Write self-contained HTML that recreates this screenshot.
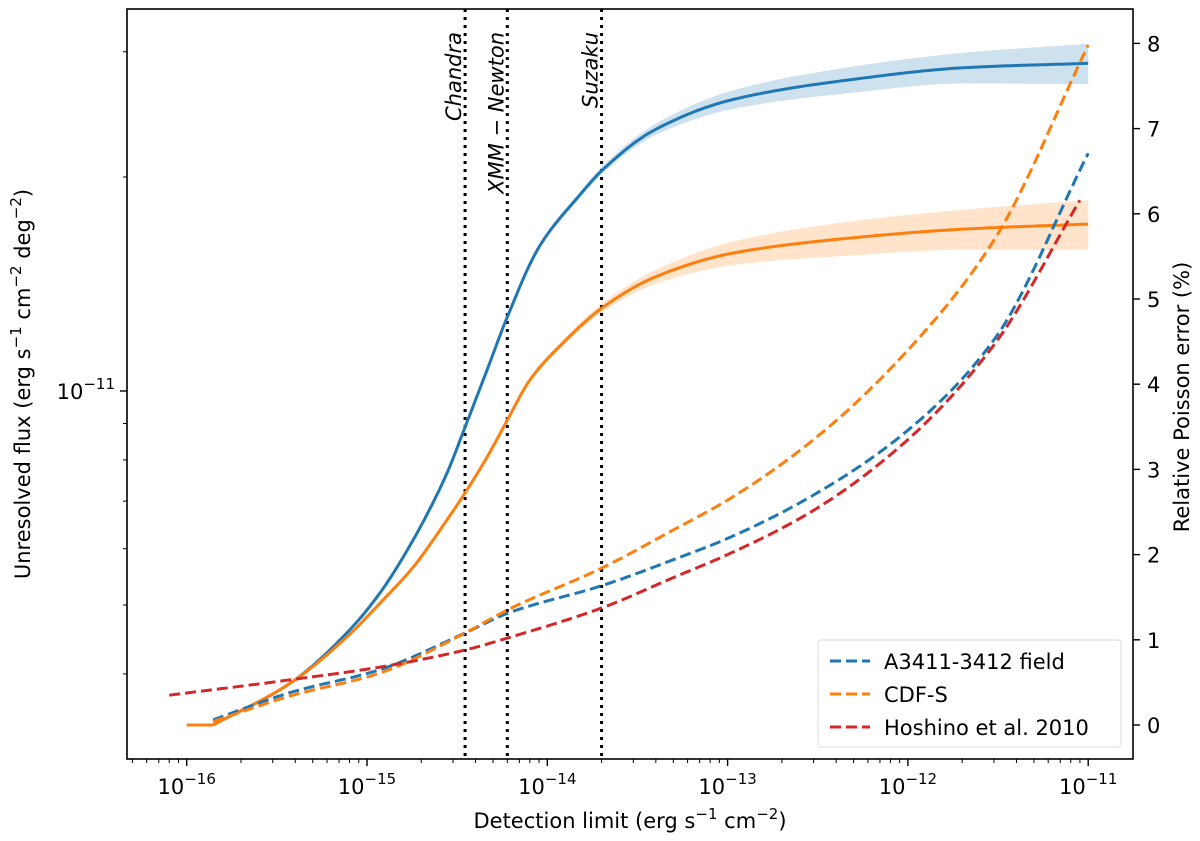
<!DOCTYPE html>
<html><head><meta charset="utf-8"><style>
html,body{margin:0;padding:0;background:#fff;}
svg{display:block;font-family:"DejaVu Sans","Liberation Sans",sans-serif;}
</style></head><body>
<svg id="chart" width="1200" height="841" xmlns="http://www.w3.org/2000/svg"></svg>
<script>
// ---- data ----
const blueX = [1.4e-16,3.74e-16,7.74e-16,1.18e-15,1.8e-15,2.78e-15,3.5e-15,4.63e-15,6e-15,9.0e-15,1.48e-14,2.04e-14,3.95e-14,1.07e-13,4.78e-13,2.1e-12,1e-11];
const blueFlux = [3.39e-12,3.88e-12,4.57e-12,5.20e-12,6.17e-12,7.67e-12,8.9e-12,1.07e-11,1.271e-11,1.594e-11,1.874e-11,2.05e-11,2.33e-11,2.57e-11,2.74e-11,2.85e-11,2.89e-11];
const blueBandPct = [0.3,0.3,0.3,0.3,0.3,0.4,0.4,0.5,0.6,0.8,1.0,1.2,1.8,3.0,4.2,5.0,6.5];
const orangeX = [1.4e-16,3.74e-16,7.74e-16,1.18e-15,1.8e-15,2.78e-15,3.5e-15,4.63e-15,6e-15,8e-15,1.22e-14,2.04e-14,3.95e-14,1.07e-13,4.78e-13,2.1e-12,1e-11];
const orangeFlux = [3.39e-12,3.88e-12,4.51e-12,5.03e-12,5.65e-12,6.59e-12,7.19e-12,8.07e-12,9.10e-12,1.036e-11,1.168e-11,1.312e-11,1.446e-11,1.563e-11,1.641e-11,1.69e-11,1.717e-11];
const orangeBandPct = [0.3,0.3,0.3,0.3,0.3,0.4,0.4,0.5,0.6,0.8,1.0,1.5,2.2,3.8,5.5,6.5,8.0];
const flatX = [1e-16,1.4e-16];
const flatFlux = [3.39e-12,3.39e-12];
const dashX = [1.4e-16,3.74e-16,1.18e-15,3.5e-15,6e-15,2.04e-14,5e-14,1e-13,3e-13,1e-12,3e-12,1e-11];
const blueErr = [0.06,0.38,0.65,1.08,1.31,1.64,1.94,2.19,2.70,3.46,4.52,6.71];
const orangeErr = [0.04,0.34,0.61,1.08,1.35,1.85,2.29,2.64,3.35,4.40,5.69,7.98];
const redX = [8e-17,3.74e-16,1.18e-15,3.5e-15,6e-15,2.04e-14,5e-14,1e-13,3e-13,1e-12,3e-12,9e-12];
const redErr = [0.35,0.53,0.68,0.88,1.02,1.38,1.73,2.00,2.52,3.35,4.46,6.16];
const instruments = ["Chandra","XMM − Newton","Suzaku"];
const instrumentLimits = [3.5e-15,6e-15,2e-14];
const xTickExp = [-16,-15,-14,-13,-12,-11];
const rightTicks = [0,1,2,3,4,5,6,7,8];

// ---- axes ----
const L=127,R=1133,T=9,B=759;
const xs = v => 186.7 + (Math.log10(v)+16)*180.3;
const yl = v => 391 - 711*Math.log10(v/1e-11);
const yr = v => 725 - 85.2*v;
const NS="http://www.w3.org/2000/svg";
const svg=document.getElementById('chart');
function el(tag,attrs,parent){const e=document.createElementNS(NS,tag);for(const k in attrs)e.setAttribute(k,attrs[k]);(parent||svg).appendChild(e);return e;}

const defs=el('defs',{});
const cp=el('clipPath',{id:'clip'},defs);
el('rect',{x:L,y:T,width:R-L,height:B-T},cp);
const plot=el('g',{'clip-path':'url(#clip)'});



function samplePts(xa,ya,fx,fy){
  const X=xa.map(fx), Y=ya.map(fy), n=X.length;
  if(n<3) return X.map((x,i)=>[x,Y[i]]);
  const d=[],m=new Array(n);
  for(let i=0;i<n-1;i++) d.push((Y[i+1]-Y[i])/(X[i+1]-X[i]));
  m[0]=d[0]; m[n-1]=d[n-2];
  for(let i=1;i<n-1;i++){ if(d[i-1]*d[i]<=0) m[i]=0; else { const w1=2*(X[i+1]-X[i])+(X[i]-X[i-1]), w2=(X[i+1]-X[i])+2*(X[i]-X[i-1]); m[i]=(w1+w2)/(w1/d[i-1]+w2/d[i]); } }
  const pts=[];
  for(let i=0;i<n-1;i++){
    const h=X[i+1]-X[i], steps=Math.max(2,Math.ceil(h/3));
    for(let s=0;s<steps;s++){
      const t=s/steps, t2=t*t, t3=t2*t;
      const y=(2*t3-3*t2+1)*Y[i]+(t3-2*t2+t)*h*m[i]+(-2*t3+3*t2)*Y[i+1]+(t3-t2)*h*m[i+1];
      pts.push([X[i]+t*h,y]);
    }
  }
  pts.push([X[n-1],Y[n-1]]);
  return pts;
}
const toD = pts => pts.map((p,i)=>(i?'L':'M')+p[0].toFixed(1)+','+p[1].toFixed(1)).join(' ');

function band(xa,ya,pct,color,name){
  const up=ya.map((v,i)=>v*(1+pct[i]/100)), lo=ya.map((v,i)=>v*(1-pct[i]/100));
  const p1=samplePts(xa,up,xs,yl), p2=samplePts(xa,lo,xs,yl).reverse();
  const p=el('path',{d:toD(p1.concat(p2))+' Z',fill:color,'fill-opacity':0.22,stroke:'none'},plot);
  
  
}
band(blueX,blueFlux,blueBandPct,'#1f77b4','blue-flux-band');
band(orangeX,orangeFlux,orangeBandPct,'#ff7f0e','orange-flux-band');

instrumentLimits.forEach((v,i)=>{
  const ln=el('line',{x1:xs(v),x2:xs(v),y1:T,y2:B,stroke:'#000','stroke-width':3,'stroke-dasharray':'3,5'},plot);
  
  
  const t=el('text',{x:0,y:0,transform:`translate(${xs(v)-4},32) rotate(-90)`,'text-anchor':'end','font-size':21,'font-style':'italic',fill:'#000'});
  t.textContent=instruments[i];
  
  
});

function line(xa,ya,fy,color,dashed,name){
  const p=el('path',{d:toD(samplePts(xa,ya,xs,fy)),fill:'none',stroke:color,'stroke-width':3,'stroke-linejoin':'round','stroke-dasharray':dashed?'11,5':'none'},plot);
  
  
}
line(blueX,blueFlux,yl,'#1f77b4',false,'blue-flux-line');
line(flatX,flatFlux,yl,'#ff7f0e',false,'orange-flux-flat');
line(orangeX,orangeFlux,yl,'#ff7f0e',false,'orange-flux-line');
line(dashX,blueErr,yr,'#1f77b4',true,'a3411-error-line');
line(dashX,orangeErr,yr,'#ff7f0e',true,'cdfs-error-line');
line(redX,redErr,yr,'#d62728',true,'hoshino-error-line');

const fr=el('rect',{x:L,y:T,width:R-L,height:B-T,fill:'none',stroke:'#000','stroke-width':1.6});



for(let e=-17;e<=-11;e++){for(let m=1;m<=9;m++){const v=m*Math.pow(10,e);const x=xs(v);if(x<L||x>R)continue;
  el('line',{x1:x,x2:x,y1:B,y2:B+(m===1?7:4),stroke:'#000','stroke-width':m===1?1.4:1});}}
xTickExp.forEach(e=>{
  const t=el('text',{x:xs(Math.pow(10,e)),y:B+35,'text-anchor':'middle','font-size':21,fill:'#000'});
  t.innerHTML=`10<tspan dy="-10" font-size="15">−${-e}</tspan>`;
  
  
});
[2e-11,3e-11,4e-12,5e-12,6e-12,7e-12,8e-12,9e-12].forEach(v=>{const y=yl(v);el('line',{x1:L-4,x2:L,y1:y,y2:y,stroke:'#000','stroke-width':1});});
el('line',{x1:L-7,x2:L,y1:yl(1e-11),y2:yl(1e-11),stroke:'#000','stroke-width':1.4});
const lt=el('text',{x:L-12,y:yl(1e-11)+8,'text-anchor':'end','font-size':21,fill:'#000'});
lt.innerHTML='10<tspan dy="-10" font-size="15">−11</tspan>';


rightTicks.forEach(v=>{const y=yr(v);el('line',{x1:R,x2:R+7,y1:y,y2:y,stroke:'#000','stroke-width':1.4});
  const t=el('text',{x:R+14,y:y+8,'font-size':21,fill:'#000'});t.textContent=v;
  
  });

const xt=el('text',{x:630,y:828,'text-anchor':'middle','font-size':21,fill:'#000'});
xt.innerHTML='Detection limit (erg s<tspan dy="-9" font-size="15">−1</tspan><tspan dy="9"> cm</tspan><tspan dy="-9" font-size="15">−2</tspan><tspan dy="9">)</tspan>';


const ytl=el('text',{x:0,y:0,transform:'translate(30,384) rotate(-90)','text-anchor':'middle','font-size':21,fill:'#000'});
ytl.innerHTML='Unresolved flux (erg s<tspan dy="-9" font-size="15">−1</tspan><tspan dy="9"> cm</tspan><tspan dy="-9" font-size="15">−2</tspan><tspan dy="9"> deg</tspan><tspan dy="-9" font-size="15">−2</tspan><tspan dy="9">)</tspan>';


const ytr=el('text',{x:0,y:0,transform:'translate(1189,397) rotate(-90)','text-anchor':'middle','font-size':21,fill:'#000'});
ytr.textContent='Relative Poisson error (%)';



const lg=el('g',{});


el('rect',{x:818,y:640,width:303,height:107,rx:3,fill:'#fff','fill-opacity':0.8,stroke:'#ddd','stroke-width':1},lg);
const legNames=['A3411-3412 field','CDF-S','Hoshino et al. 2010'];
const legColors=['#1f77b4','#ff7f0e','#d62728'];
legNames.forEach((n,i)=>{const y=661+i*33;
  const g=el('g',{},lg);
  
  
  el('line',{x1:830,x2:870,y1:y,y2:y,stroke:legColors[i],'stroke-width':3,'stroke-dasharray':'11,5'},g);
  const t=el('text',{x:884,y:y+8,'font-size':21,fill:'#000'},g);t.textContent=n;});
</script>
</body></html>
